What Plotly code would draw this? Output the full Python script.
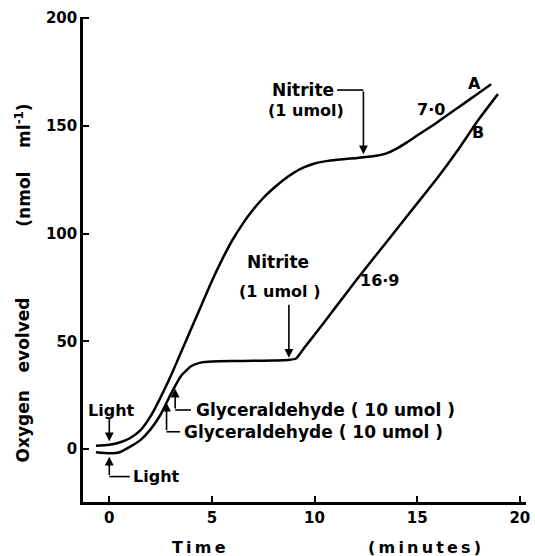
import plotly.graph_objects as go

# Curve A
time_a = [-0.65, 0, 0.5, 1.0, 1.5, 2.0, 2.5, 3.0, 3.5, 4.0, 4.5, 5.0, 5.5, 6.0, 6.5, 7.0,
          7.5, 8.0, 8.5, 9.0, 9.5, 10.0, 10.5, 11.0, 11.5, 12.0, 12.5, 13.0, 13.5, 14.0,
          14.5, 15.0, 16.0, 17.0, 18.0, 18.6]
oxy_a = [1.5, 2, 3, 5, 8.5, 15, 24, 34, 45, 56, 67, 78, 88, 97, 104.5, 111,
         116.5, 121, 125, 128.3, 130.8, 132.5, 133.5, 134.1, 134.6, 135, 135.5, 136.1, 137.2, 139.4,
         142.3, 145.5, 151.8, 158.5, 165.2, 169.3]

# Curve B
time_b = [-0.65, 0, 0.5, 1.0, 1.5, 2.0, 2.5, 3.0, 3.5, 4.0, 4.5, 5.0, 6.0, 7.0, 8.0, 8.7,
          9.1, 9.5, 10.0, 11.0, 12.0, 13.0, 14.0, 15.0, 16.0, 17.0, 18.0, 18.93]
oxy_b = [-1.5, -2, -1.5, 1, 4, 9, 16, 25.5, 34, 38.5, 40.2, 40.6, 40.8, 40.9, 41.1, 41.3,
         42, 47, 53, 65.5, 78, 90, 102, 114, 126, 139, 153, 164.7]

x_ticks = [0, 5, 10, 15, 20]
y_ticks = [0, 50, 100, 150, 200]

FONT = "DejaVu Sans"
BLACK = "#000000"

fig = go.Figure()
fig.add_trace(go.Scatter(x=time_a, y=oxy_a, mode="lines",
                         line=dict(color=BLACK, width=2.5, shape="spline", smoothing=0.8),
                         hoverinfo="skip", showlegend=False))
fig.add_trace(go.Scatter(x=time_b, y=oxy_b, mode="lines",
                         line=dict(color=BLACK, width=2.5, shape="spline", smoothing=0.5),
                         hoverinfo="skip", showlegend=False))

annotations = []
shapes = []


def text(x, y, s, size=16, xanchor="center", xref="x", yref="y", angle=0):
    annotations.append(dict(x=x, y=y, text="<b>" + s + "</b>", showarrow=False,
                            xref=xref, yref=yref, xanchor=xanchor, yanchor="middle",
                            textangle=angle,
                            font=dict(family=FONT, size=size, color=BLACK)))


def arrow(x, y_tip, y_tail):
    annotations.append(dict(x=x, y=y_tip, ax=x, ay=y_tail, xref="x", yref="y",
                            axref="x", ayref="y", text="", showarrow=True,
                            arrowhead=2, arrowsize=1.1, arrowwidth=1.6,
                            arrowcolor=BLACK))


def seg(x0, y0, x1, y1):
    shapes.append(dict(type="line", x0=x0, y0=y0, x1=x1, y1=y1, xref="x", yref="y",
                       line=dict(color=BLACK, width=1.6)))


# Light (top, curve A)
text(0.12, 18.1, "Light")
arrow(0, 3.6, 15.0)
# Light (bottom, curve B)
arrow(0, -3.6, -12.8)
seg(0, -12.8, 1.0, -12.8)
text(1.08, -12.8, "Light", xanchor="left")
# Glyceraldehyde (lower label)
arrow(2.79, 21.5, 8.0)
seg(2.79, 8.0, 3.45, 8.0)
text(3.56, 8.0, "Glyceraldehyde ( 10 umol )", size=17, xanchor="left")
# Glyceraldehyde (upper label)
arrow(3.21, 28.0, 18.1)
seg(3.21, 18.1, 3.98, 18.1)
text(4.13, 18.1, "Glyceraldehyde ( 10 umol )", size=17, xanchor="left")
# Nitrite (upper, curve A)
text(9.44, 166.6, "Nitrite", size=17)
text(9.57, 157.3, "(1 umol)")
seg(11.1, 166.6, 12.38, 166.6)
arrow(12.38, 136.8, 166.6)
# Nitrite (lower, curve B)
text(8.24, 86.8, "Nitrite", size=17)
text(8.31, 72.9, "(1 umol )")
arrow(8.75, 42.3, 67.7)
# Rates and curve labels
text(13.16, 78.4, "16·9")
text(15.68, 157.8, "7·0")
text(17.8, 169.8, "A")
text(17.94, 147.1, "B")

# Axis titles
text(0.262, -0.093, "T\u2009i\u2009m\u2009e", size=16, xref="paper", yref="paper")
text(0.77, -0.093, "(\u2009m\u2009i\u2009n\u2009u\u2009t\u2009e\u2009s\u2009)", size=16,
     xref="paper", yref="paper")
text(-0.136, 0.252, "Oxygen   evolved", size=17, xref="paper", yref="paper", angle=-90)
text(-0.136, 0.695, "(nmol    ml<sup>-1</sup>)", size=17, xref="paper", yref="paper", angle=-90)

fig.update_layout(
    width=535, height=556,
    margin=dict(l=83, r=5, t=17, b=54),
    paper_bgcolor="white", plot_bgcolor="white",
    annotations=annotations, shapes=shapes,
    xaxis=dict(range=[-1.28, 20.3], tickvals=x_ticks,
               ticktext=["<b>%d</b>" % v for v in x_ticks],
               showgrid=False, zeroline=False, showline=True, linecolor=BLACK,
               linewidth=2.5, ticks="inside", ticklen=6, tickwidth=2, tickcolor=BLACK,
               tickfont=dict(family=FONT, size=15, color=BLACK)),
    yaxis=dict(range=[-24.6, 200.5], tickvals=y_ticks,
               ticktext=["<b>%d</b>" % v for v in y_ticks],
               showgrid=False, zeroline=False, showline=True, linecolor=BLACK,
               linewidth=2.5, ticks="inside", ticklen=6, tickwidth=2, tickcolor=BLACK,
               tickfont=dict(family=FONT, size=15, color=BLACK)),
)

fig.write_html("out.html")
